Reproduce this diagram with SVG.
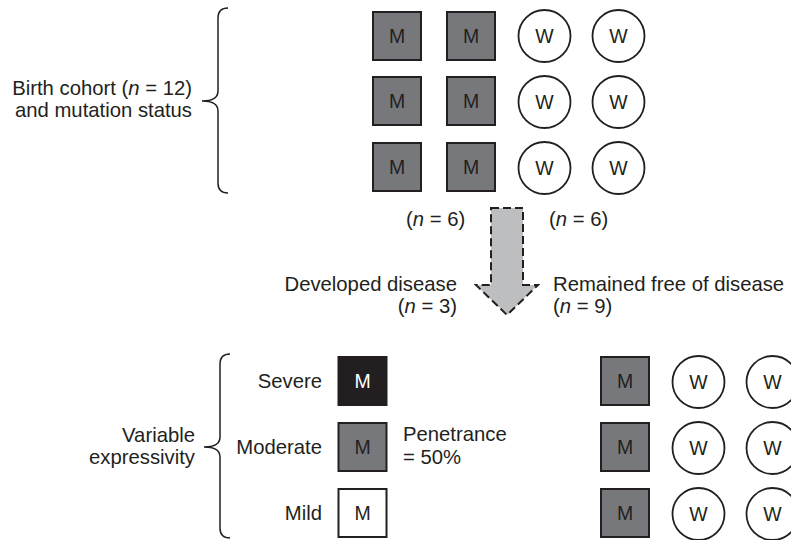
<svg xmlns="http://www.w3.org/2000/svg" width="791" height="540" viewBox="0 0 791 540">
<style>
text{font-family:"Liberation Sans",Arial,sans-serif;font-size:20.3px;fill:#231f20}
.sym{font-size:19.5px;text-anchor:middle}
.sq{fill:#77787b;stroke:#231f20;stroke-width:2}
.sqb{fill:#231f20;stroke:#231f20;stroke-width:2}
.sqw{fill:#fff;stroke:#231f20;stroke-width:2}
.ci{fill:#fff;stroke:#231f20;stroke-width:1.8}
.br{fill:none;stroke:#231f20;stroke-width:1.5}
.e{text-anchor:end}
.symw{fill:#fff}
</style>
<defs>
<g id="msq"><rect class="sq" x="-24" y="-24" width="48" height="48"/><text class="sym" x="0" y="7">M</text></g>
<g id="wci"><circle class="ci" r="26"/><text class="sym" x="0" y="7">W</text></g>
</defs>

<g id="brace-top"><path class="br" d="M228,8 Q218,8 218,18 L218,91 Q218,101 202,101 Q218,101 218,111 L218,183 Q218,193 228,193"/></g>
<g id="label-cohort">
<text class="e" x="192" y="95">Birth cohort (<tspan font-style="italic">n</tspan> = 12)</text>
<text class="e" x="192" y="117">and mutation status</text>
</g>

<g id="cohort">
<use id="m1" href="#msq" x="397" y="36"/>
<use id="m2" href="#msq" x="471" y="36"/>
<use id="w1" href="#wci" x="544.5" y="36"/>
<use id="w2" href="#wci" x="618.5" y="36"/>
<use id="m3" href="#msq" x="397" y="101"/>
<use id="m4" href="#msq" x="471" y="101"/>
<use id="w3" href="#wci" x="544.5" y="102"/>
<use id="w4" href="#wci" x="618.5" y="102"/>
<use id="m5" href="#msq" x="397" y="167"/>
<use id="m6" href="#msq" x="471" y="167"/>
<use id="w5" href="#wci" x="544.5" y="168"/>
<use id="w6" href="#wci" x="618.5" y="168"/>
</g>

<g id="counts">
<text x="406" y="226">(<tspan font-style="italic">n</tspan> = 6)</text>
<text x="549" y="226">(<tspan font-style="italic">n</tspan> = 6)</text>
</g>

<g id="connectors">
<path d="M491,208 L523,208 L523,285 L538,285 L507,315 L476,285 L491,285 Z" fill="#bcbec0" stroke="#231f20" stroke-width="2" stroke-dasharray="8 4"/>
</g>

<g id="label-developed">
<text class="e" x="457" y="291">Developed disease</text>
<text class="e" x="457" y="313">(<tspan font-style="italic">n</tspan> = 3)</text>
</g>
<g id="label-free">
<text x="553" y="291">Remained free of disease</text>
<text x="553" y="313">(<tspan font-style="italic">n</tspan> = 9)</text>
</g>

<g id="brace-bottom"><path class="br" d="M230,354 Q220,354 220,364 L220,437 Q220,447 204,447 Q220,447 220,457 L220,528 Q220,538 230,538"/></g>
<g id="label-expressivity">
<text class="e" x="195" y="442">Variable</text>
<text class="e" x="195" y="464">expressivity</text>
</g>

<g id="severe">
<text class="e" x="322" y="388">Severe</text>
<rect class="sqb" x="338.5" y="357" width="48" height="48"/>
<text class="sym symw" x="362.5" y="388">M</text>
</g>
<g id="moderate">
<text class="e" x="322" y="454">Moderate</text>
<rect class="sq" x="338.5" y="423" width="48" height="48"/>
<text class="sym" x="362.5" y="454">M</text>
</g>
<g id="mild">
<text class="e" x="322" y="520">Mild</text>
<rect class="sqw" x="338.5" y="489" width="48" height="48"/>
<text class="sym" x="362.5" y="520">M</text>
</g>
<g id="label-penetrance">
<text x="403" y="441">Penetrance</text>
<text x="403" y="464">= 50%</text>
</g>

<g id="free-group">
<use id="m7" href="#msq" x="625" y="381"/>
<use id="w7" href="#wci" x="698.5" y="382"/>
<use id="w8" href="#wci" x="772.5" y="382"/>
<use id="m8" href="#msq" x="625" y="447"/>
<use id="w9" href="#wci" x="698.5" y="448"/>
<use id="w10" href="#wci" x="772.5" y="448"/>
<use id="m9" href="#msq" x="625" y="513"/>
<use id="w11" href="#wci" x="698.5" y="514"/>
<use id="w12" href="#wci" x="772.5" y="514"/>
</g>
</svg>
